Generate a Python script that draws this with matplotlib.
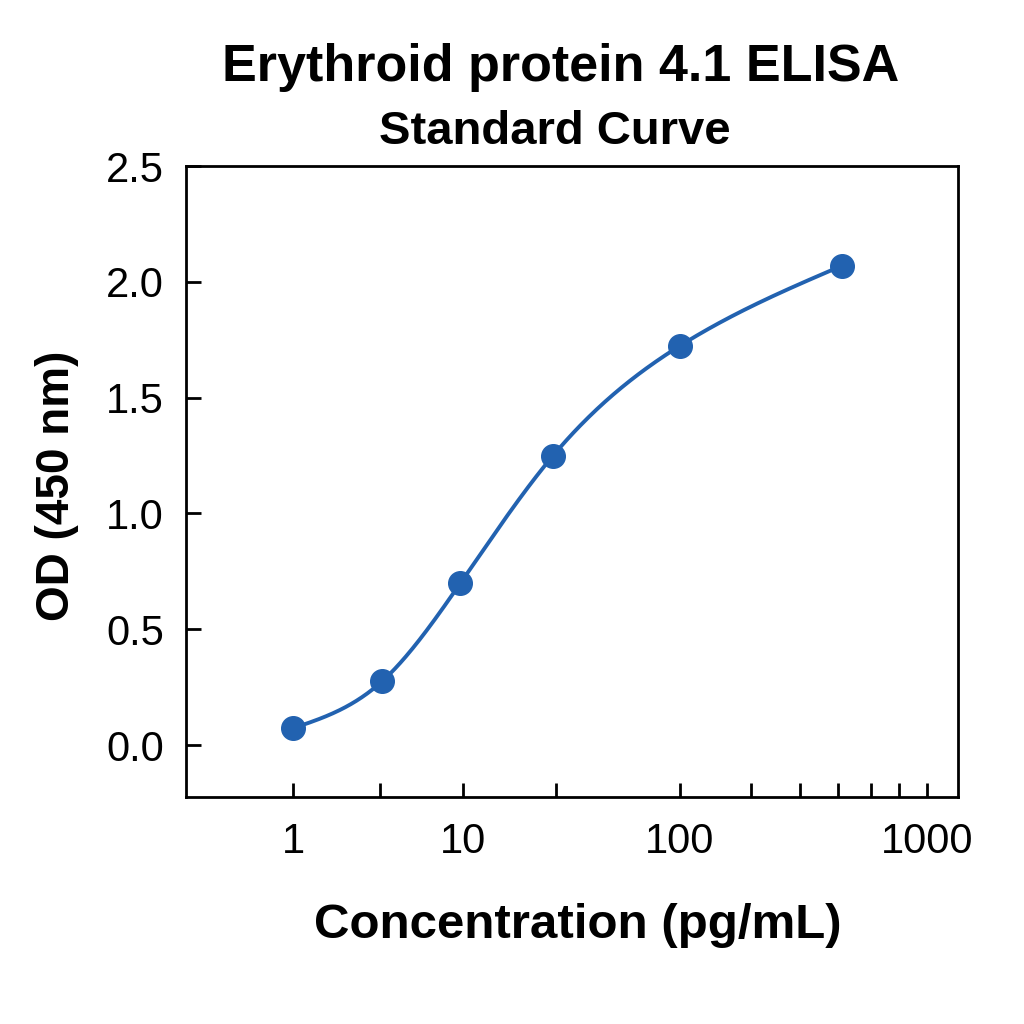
import numpy as np
import matplotlib
matplotlib.use("Agg")
import matplotlib.pyplot as plt
from matplotlib.ticker import FixedLocator, NullFormatter

# ---- data ----
concentration = [1.0, 3.1, 9.6, 29.0, 100.0, 410.0]   # pg/mL
od_450 = [0.073, 0.276, 0.698, 1.25, 1.724, 2.069]

major_ticks = [1, 10, 100, 1000]
major_labels = ["1", "10", "100", "1000"]
minor_ticks = [3, 30, 200, 300, 400, 500, 600]
y_ticks = [0.0, 0.5, 1.0, 1.5, 2.0, 2.5]

title = "Erythroid protein 4.1 ELISA"
subtitle = "Standard Curve"
xlabel = "Concentration (pg/mL)"
ylabel = "OD (450 nm)"

# ---- axis warp (the reference's decade spacing is uneven) ----
anchor_x = np.log10([1, 3, 10, 30, 100, 200, 300, 400, 500, 600, 1000])
anchor_u = np.array([293, 380, 463, 556, 680, 751, 800, 838, 871, 899, 927], float)

def _fwd_log(l):
    l = np.asarray(l, float)
    u = np.interp(l, anchor_x, anchor_u)
    s0 = (anchor_u[1] - anchor_u[0]) / (anchor_x[1] - anchor_x[0])
    s1 = (anchor_u[-1] - anchor_u[-2]) / (anchor_x[-1] - anchor_x[-2])
    u = np.where(l < anchor_x[0], anchor_u[0] + (l - anchor_x[0]) * s0, u)
    u = np.where(l > anchor_x[-1], anchor_u[-1] + (l - anchor_x[-1]) * s1, u)
    return u

def forward(x):
    x = np.asarray(x, float)
    x = np.where(x > 0, x, 1e-6)
    return _fwd_log(np.log10(x))

def inverse(u):
    u = np.asarray(u, float)
    l = np.interp(u, anchor_u, anchor_x)
    s0 = (anchor_x[1] - anchor_x[0]) / (anchor_u[1] - anchor_u[0])
    s1 = (anchor_x[-1] - anchor_x[-2]) / (anchor_u[-1] - anchor_u[-2])
    l = np.where(u < anchor_u[0], anchor_x[0] + (u - anchor_u[0]) * s0, l)
    l = np.where(u > anchor_u[-1], anchor_x[-1] + (u - anchor_u[-1]) * s1, l)
    return 10 ** l

# natural cubic spline in display-space coordinate
def natural_spline(xk, yk, xs):
    xk = np.asarray(xk, float); yk = np.asarray(yk, float)
    n = len(xk)
    h = np.diff(xk)
    A = np.zeros((n, n)); b = np.zeros(n)
    A[0, 0] = 1; A[-1, -1] = 1
    for i in range(1, n - 1):
        A[i, i - 1] = h[i - 1]
        A[i, i] = 2 * (h[i - 1] + h[i])
        A[i, i + 1] = h[i]
        b[i] = 3 * ((yk[i + 1] - yk[i]) / h[i] - (yk[i] - yk[i - 1]) / h[i - 1])
    c = np.linalg.solve(A, b)
    out = np.empty_like(xs)
    for j, xv in enumerate(xs):
        i = min(max(np.searchsorted(xk, xv) - 1, 0), n - 2)
        dx = xv - xk[i]
        bi = (yk[i + 1] - yk[i]) / h[i] - h[i] * (2 * c[i] + c[i + 1]) / 3
        di = (c[i + 1] - c[i]) / (3 * h[i])
        out[j] = yk[i] + bi * dx + c[i] * dx ** 2 + di * dx ** 3
    return out

plt.rcParams['font.family'] = ['Liberation Sans', 'DejaVu Sans']

fig = plt.figure(figsize=(10.24, 10.24), dpi=100)
ax = fig.add_axes([186 / 1024, 1 - 797 / 1024, (958 - 186) / 1024, (797 - 166) / 1024])
ax.set_xscale('function', functions=(forward, inverse))

color = '#2262b0'
u_pts = forward(concentration)
u_s = np.linspace(u_pts[0], u_pts[-1], 400)
y_s = natural_spline(u_pts, od_450, u_s)
ax.plot(inverse(u_s), y_s, color=color, lw=2.8, zorder=2)
ax.plot(concentration, od_450, 'o', color=color, ms=17, zorder=3)

ax.set_xlim(inverse(186), inverse(958))
ax.set_ylim(-0.224, 2.5)

ax.xaxis.set_major_locator(FixedLocator(major_ticks))
ax.set_xticklabels(major_labels)
ax.xaxis.set_minor_locator(FixedLocator(minor_ticks))
ax.xaxis.set_minor_formatter(NullFormatter())
ax.set_yticks(y_ticks)
ax.set_yticklabels([f"{v:.1f}" for v in y_ticks])

ax.tick_params(axis='x', which='both', direction='in', length=10, width=2,
               labelsize=30, pad=18, top=False)
ax.tick_params(axis='y', which='major', direction='in', length=11, width=2,
               labelsize=30, pad=16, right=False)
for sp in ax.spines.values():
    sp.set_linewidth(2)

fig.text(578 / 1024, 1 - 926 / 1024, xlabel, ha='center', va='center',
         fontsize=35.5, fontweight='bold')
fig.text(57 / 1024, 1 - 486 / 1024, ylabel, ha='center', va='center', rotation=90,
         fontsize=33, fontweight='bold')

fig.text(561 / 1024, 1 - 68 / 1024, title, ha='center', va='center', fontsize=37.5, fontweight='bold')
fig.text(555 / 1024, 1 - 132 / 1024, subtitle, ha='center', va='center', fontsize=34, fontweight='bold')

fig.savefig('out.png', dpi=100)
